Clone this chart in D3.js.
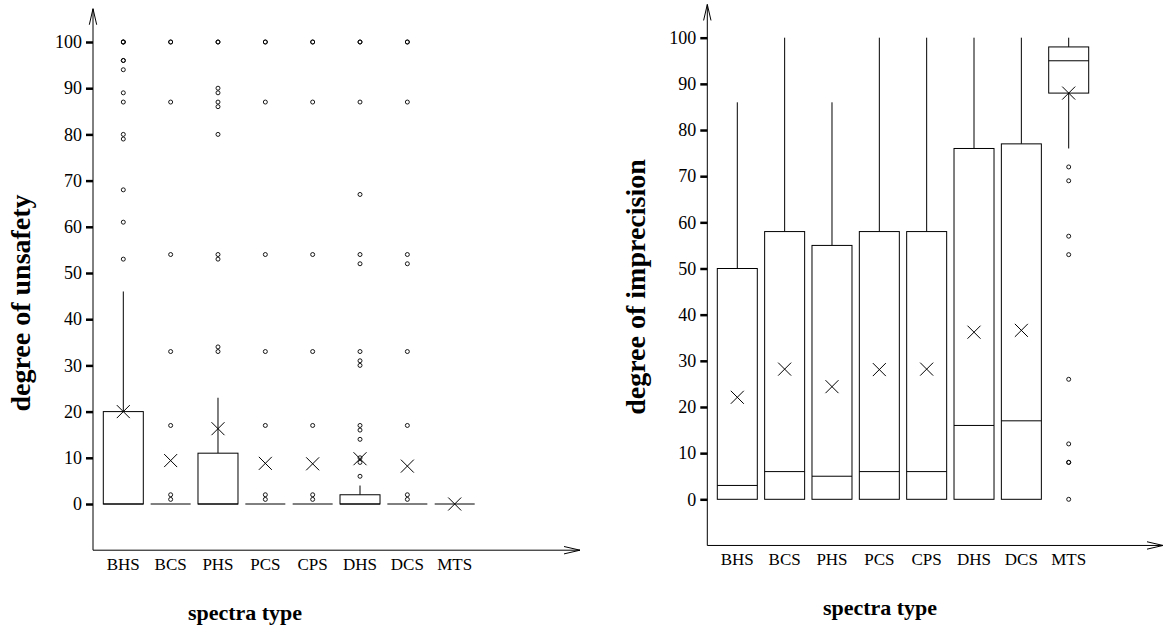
<!DOCTYPE html>
<html>
<head>
<meta charset="utf-8">
<script src="https://cdn.jsdelivr.net/npm/d3@7"></script>
<style>
  body { margin: 0; background: #fff; }
  text { font-family: "Liberation Serif", "Times New Roman", serif; fill: #000; }
</style>
</head>
<body>
<div id="chart"></div>
<script>
let categories = ["BHS", "BCS", "PHS", "PCS", "CPS", "DHS", "DCS", "MTS"];
let yTicks = [0, 10, 20, 30, 40, 50, 60, 70, 80, 90, 100];

// degree of unsafety
let unsafeQ1 = [0, 0, 0, 0, 0, 0, 0, 0];
let unsafeMedian = [0, 0, 0, 0, 0, 0, 0, 0];
let unsafeQ3 = [20, 0, 11, 0, 0, 2, 0, 0];
let unsafeWhiskerHi = [46, 0, 23, 0, 0, 4, 0, 0];
let unsafeMean = [20, 9.4, 16.3, 8.8, 8.7, 9.8, 8.2, 0];
let unsafeOutliers = [
  [100, 100, 100, 96, 96, 94, 89, 87, 80, 79, 68, 61, 53],
  [100, 100, 87, 54, 33, 17, 2, 1],
  [100, 100, 90, 89, 87, 86, 80, 54, 53, 34, 33],
  [100, 100, 87, 54, 33, 17, 2, 1],
  [100, 100, 87, 54, 33, 17, 2, 1],
  [100, 100, 87, 67, 54, 52, 33, 31, 30, 17, 16, 14, 10, 9, 6],
  [100, 100, 87, 54, 52, 33, 17, 2, 1],
  []
];

// degree of imprecision
let impQ1 = [0, 0, 0, 0, 0, 0, 0, 88];
let impMedian = [3, 6, 5, 6, 6, 16, 17, 95];
let impQ3 = [50, 58, 55, 58, 58, 76, 77, 98];
let impWhiskerLo = [0, 0, 0, 0, 0, 0, 0, 76];
let impWhiskerHi = [86, 100, 86, 100, 100, 100, 100, 100];
let impMean = [22.1, 28.2, 24.4, 28.1, 28.2, 36.2, 36.6, 88];
let impOutliers = [[], [], [], [], [], [], [], [72, 69, 57, 53, 26, 12, 8, 8, 0]];

function renderChart() {
  let svg = d3.select("#chart")
    .append("svg")
    .attr("width", 1165)
    .attr("height", 633);

  function panel(opts) {
    let g = svg.append("g");
    let x = d3.scalePoint().domain(categories).range(opts.xRange);
    let y = d3.scaleLinear().domain([0, 100]).range(opts.yRange);
    let ax = opts.axisX, axBottom = y(-10), axTop = y(107.2);
    let boxW = 40;

    // axes with open arrow heads
    g.append("line").attr("x1", ax).attr("x2", ax).attr("y1", axBottom).attr("y2", axTop)
      .attr("stroke", "#000");
    g.append("path")
      .attr("d", `M${ax - 3.7},${axTop + 16}L${ax},${axTop}L${ax + 3.7},${axTop + 16}`)
      .attr("fill", "none").attr("stroke", "#000");
    g.append("line").attr("x1", ax).attr("x2", opts.xEnd).attr("y1", axBottom).attr("y2", axBottom)
      .attr("stroke", "#000");
    g.append("path")
      .attr("d", `M${opts.xEnd - 16},${axBottom - 3.7}L${opts.xEnd},${axBottom}L${opts.xEnd - 16},${axBottom + 3.7}`)
      .attr("fill", "none").attr("stroke", "#000");

    let yAxis = g.append("g")
      .attr("transform", `translate(${ax},0)`)
      .call(d3.axisLeft(y).tickValues(yTicks).tickSize(7).tickPadding(4));
    yAxis.select(".domain").remove();
    yAxis.selectAll(".tick line").attr("stroke", "#000").attr("stroke-width", 2.5);
    yAxis.selectAll(".tick text")
      .style("font-family", "Liberation Serif")
      .style("font-size", "18px")
      .attr("fill", "#000");

    // category labels
    g.selectAll(".cat")
      .data(categories)
      .enter()
      .append("text")
      .attr("x", d => x(d))
      .attr("y", opts.catY)
      .attr("text-anchor", "middle")
      .style("font-size", "17px")
      .text(d => d);

    // boxes
    let box = g.selectAll(".box")
      .data(categories)
      .enter()
      .append("g");

    box.append("line")
      .attr("x1", d => x(d)).attr("x2", d => x(d))
      .attr("y1", (d, i) => y(opts.q3[i])).attr("y2", (d, i) => y(opts.hi[i]))
      .attr("stroke", "#000");
    box.append("line")
      .attr("x1", d => x(d)).attr("x2", d => x(d))
      .attr("y1", (d, i) => y(opts.q1[i])).attr("y2", (d, i) => y(opts.lo[i]))
      .attr("stroke", "#000");
    box.append("rect")
      .attr("x", d => x(d) - boxW / 2)
      .attr("width", boxW)
      .attr("y", (d, i) => y(opts.q3[i]))
      .attr("height", (d, i) => y(opts.q1[i]) - y(opts.q3[i]))
      .attr("fill", "#fff")
      .attr("stroke", "#000");
    box.append("line")
      .attr("x1", d => x(d) - boxW / 2).attr("x2", d => x(d) + boxW / 2)
      .attr("y1", (d, i) => y(opts.median[i])).attr("y2", (d, i) => y(opts.median[i]))
      .attr("stroke", "#000");

    // outliers
    categories.forEach(function(c, i) {
      g.selectAll(null)
        .data(opts.outliers[i])
        .enter()
        .append("circle")
        .attr("cx", x(c))
        .attr("cy", d => y(d))
        .attr("r", 2)
        .attr("fill", "none")
        .attr("stroke", "#000")
        .attr("stroke-width", 0.9);
    });

    // means
    box.append("path")
      .attr("d", (d, i) => {
        let cx = x(d), cy = y(opts.mean[i]), s = 6.5;
        return `M${cx - s},${cy - s}L${cx + s},${cy + s}M${cx - s},${cy + s}L${cx + s},${cy - s}`;
      })
      .attr("fill", "none")
      .attr("stroke", "#000");

    // axis titles
    g.append("text")
      .attr("transform", `translate(${opts.yTitleX},${opts.yTitleY}) rotate(-90)`)
      .attr("text-anchor", "middle")
      .style("font-size", "28px")
      .style("font-weight", "bold")
      .text(opts.yTitle);
    g.append("text")
      .attr("x", opts.xTitleX)
      .attr("y", opts.xTitleY)
      .attr("text-anchor", "middle")
      .style("font-size", "22px")
      .style("font-weight", "bold")
      .text("spectra type");
  }

  panel({
    xRange: [123.3, 454.7], yRange: [504, 42], axisX: 93, xEnd: 580,
    q1: unsafeQ1, median: unsafeMedian, q3: unsafeQ3, lo: unsafeQ1, hi: unsafeWhiskerHi,
    mean: unsafeMean, outliers: unsafeOutliers,
    catY: 570, yTitle: "degree of unsafety", yTitleX: 30, yTitleY: 303,
    xTitleX: 245, xTitleY: 620
  });

  panel({
    xRange: [737.3, 1068.7], yRange: [499.3, 37.7], axisX: 707.3, xEnd: 1163,
    q1: impQ1, median: impMedian, q3: impQ3, lo: impWhiskerLo, hi: impWhiskerHi,
    mean: impMean, outliers: impOutliers,
    catY: 565, yTitle: "degree of imprecision", yTitleX: 645, yTitleY: 287,
    xTitleX: 880, xTitleY: 615
  });
}

renderChart();
</script>
</body>
</html>
